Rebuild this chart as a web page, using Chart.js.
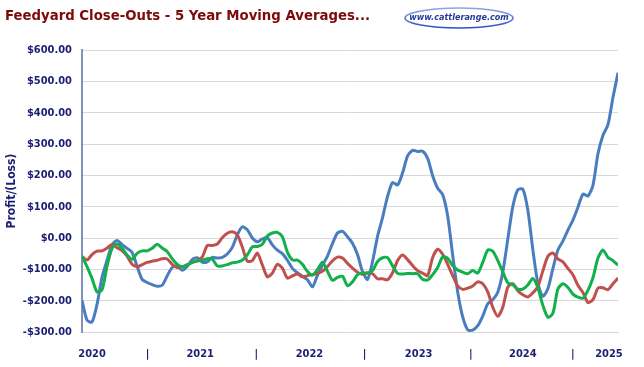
<!DOCTYPE html>
<html><head><meta charset="utf-8">
<script src="https://cdn.jsdelivr.net/npm/chart.js@4/dist/chart.umd.min.js"></script>
<style>html,body{margin:0;padding:0;background:#fff;}#wrap{width:644px;height:367px;position:relative;}</style>
</head><body><div id="wrap"><canvas id="c" width="644" height="367"></canvas></div>
<script>
// ---- data (one value per step along the time axis, Jan 2020 -> early 2025) ----
const xAxisLabels = ['2020','|','2021','|','2022','|','2023','|','2024','|','2025'];
const xAxisLabelAt = [2, 13.1, 23.6, 34.8, 45.4, 56.4, 67.2, 77.6, 88, 98, 105.2];

const seriesBlue = [
-199,-262,-268,-212,-125,-71,-22,-8,-21,-33,
-46,-90,-132,-142,-149,-154,-151,-121,-94,-90,
-103,-91,-69,-63,-77,-76,-62,-64,-62,-51,
-30,10,36,26,0,-12,-3,1,-22,-39,
-50,-71,-97,-111,-122,-133,-156,-119,-87,-58,
-18,16,21,4,-17,-53,-107,-132,-75,5,
65,133,177,169,208,262,280,276,277,254,
199,159,139,70,-55,-172,-252,-293,-294,-280,
-249,-210,-197,-173,-109,-4,100,154,156,89,
-37,-144,-186,-162,-98,-38,-10,25,57,98,
140,134,168,269,328,362,449,527];

const seriesRed = [
-59,-70,-53,-42,-41,-32,-21,-31,-40,-58,
-84,-92,-85,-78,-74,-71,-66,-67,-84,-94,
-92,-85,-78,-73,-61,-24,-24,-19,1,15,
20,10,-29,-74,-72,-48,-86,-124,-112,-84,
-96,-128,-121,-115,-124,-120,-117,-113,-106,-91,
-73,-61,-64,-81,-96,-109,-116,-111,-114,-130,
-130,-133,-111,-72,-54,-69,-88,-104,-112,-120,
-62,-36,-52,-84,-120,-153,-164,-160,-153,-140,
-146,-172,-221,-250,-221,-157,-146,-168,-181,-188,
-175,-155,-105,-58,-48,-67,-76,-97,-117,-151,
-174,-206,-197,-160,-159,-165,-146,-128];

const seriesGreen = [
-59,-91,-129,-172,-165,-90,-33,-19,-33,-54,
-68,-49,-41,-41,-33,-20,-32,-43,-66,-84,
-92,-86,-78,-73,-72,-66,-67,-89,-89,-85,
-79,-77,-71,-54,-28,-27,-20,6,16,18,
4,-45,-70,-71,-84,-107,-118,-101,-77,-106,
-135,-126,-122,-152,-140,-117,-112,-112,-104,-75,
-63,-63,-89,-113,-115,-113,-114,-114,-132,-134,
-117,-94,-60,-65,-88,-102,-109,-114,-104,-112,
-78,-38,-42,-72,-108,-143,-149,-163,-163,-150,
-129,-159,-215,-253,-240,-163,-146,-158,-179,-189,
-192,-167,-127,-64,-38,-62,-72,-87];

const chartTitle = 'Feedyard Close-Outs - 5 Year Moving Averages...';
const logoText = 'www.cattlerange.com';
const yAxisTitle = 'Profit/(Loss)';

// ---- build ----
const FONT = "'DejaVu Sans Condensed','DejaVu Sans',sans-serif";
const NAVY = '#1b1f73';
const toPts = arr => arr.map((v, i) => ({x: i, y: v}));
const money = v => (v < 0 ? '-' : '') + '$' + Math.abs(v).toFixed(2);

const headerPlugin = {
  id: 'header',
  afterDraw(chart) {
    const ctx = chart.ctx;
    ctx.save();
    // title
    ctx.font = "bold 14px " + FONT;
    ctx.fillStyle = '#7d0a0a';
    ctx.textBaseline = 'alphabetic';
    ctx.textAlign = 'left';
    const w = ctx.measureText(chartTitle).width;
    const target = 365;
    ctx.translate(5, 20);
    ctx.scale(target / w, 1);
    ctx.fillText(chartTitle, 0, 0);
    ctx.restore();
    // logo
    ctx.save();
    const cx = 459, cy = 18;
    const g = ctx.createLinearGradient(cx, cy - 10, cx, cy + 10);
    g.addColorStop(0, '#8fa6e8');
    g.addColorStop(1, '#2f4fc4');
    ctx.strokeStyle = g;
    ctx.lineWidth = 1.6;
    ctx.beginPath();
    ctx.ellipse(cx, cy, 54, 10, 0, 0, Math.PI * 2);
    ctx.stroke();
    ctx.font = "italic bold 9px " + FONT;
    ctx.fillStyle = '#2a3a98';
    ctx.textAlign = 'center';
    ctx.textBaseline = 'middle';
    ctx.fillText(logoText, cx, cy);
    ctx.restore();
  }
};

new Chart(document.getElementById('c'), {
  type: 'line',
  data: {
    datasets: [
      {data: toPts(seriesBlue), borderColor: '#4a7dbf', borderWidth: 3, pointRadius: 0, tension: 0.25, order: 3},
      {data: toPts(seriesRed), borderColor: '#c0504d', borderWidth: 3, pointRadius: 0, tension: 0.25, order: 2},
      {data: toPts(seriesGreen), borderColor: '#12b04a', borderWidth: 3, pointRadius: 0, tension: 0.25, order: 1}
    ]
  },
  options: {
    responsive: false,
    animation: false,
    devicePixelRatio: 1,
    layout: {padding: {left: 0, right: 26, top: 50, bottom: 0}},
    plugins: {legend: {display: false}, tooltip: {enabled: false}, title: {display: false}},
    scales: {
      x: {
        type: 'linear', min: 0, max: 107,
        afterBuildTicks: s => { s.ticks = xAxisLabelAt.map(v => ({value: v})); },
        afterFit: s => { s.height = 35; },
        ticks: {
          autoSkip: false, maxRotation: 0, padding: 16,
          callback: (v, i) => xAxisLabels[i],
          font: {family: FONT, size: 11, weight: 'bold'}, color: NAVY
        },
        grid: {display: false, drawTicks: false},
        border: {display: true, color: '#d9d9d9', width: 1}
      },
      y: {
        min: -300, max: 600,
        afterFit: s => { s.width = 82; },
        ticks: {
          stepSize: 100, padding: 10,
          callback: v => money(v),
          font: {family: FONT, size: 11, weight: 'bold'}, color: NAVY
        },
        grid: {color: '#d9d9d9', lineWidth: 1, drawTicks: false},
        border: {display: true, color: '#8393b6', width: 2},
        title: {
          display: true, text: yAxisTitle, padding: {top: 5, bottom: 0},
          font: {family: FONT, size: 12, weight: 'bold'}, color: NAVY
        }
      }
    }
  },
  plugins: [headerPlugin]
});
</script></body></html>
